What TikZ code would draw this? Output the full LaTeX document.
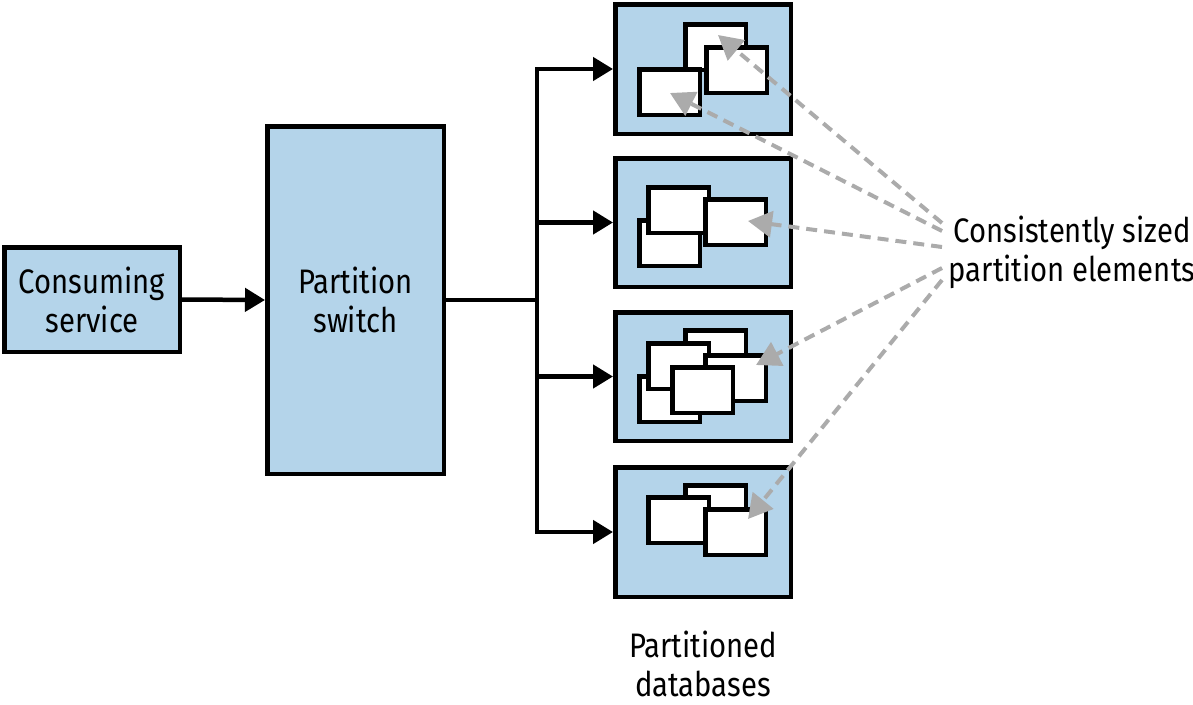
\documentclass[tikz,border=0pt]{standalone}
\usepackage{fontspec}
\setmainfont[FakeStretch=0.86]{Fira Sans}
\usetikzlibrary{arrows.meta,calc}
\definecolor{boxblue}{HTML}{B4D4EA}
\definecolor{ptrgray}{HTML}{ABABAB}
\tikzset{
  txt/.style={font=\fontsize{34}{39}\selectfont, align=center, inner sep=0pt},
  bluebox/.style={draw=black, line width=4.5pt, fill=boxblue, inner sep=0pt, txt},
  elem/.style={draw=black, line width=4.5pt, fill=white, minimum width=60.5pt, minimum height=45.5pt, inner sep=0pt, anchor=north west},
  link/.style={draw=black, line width=4.5pt, -{Triangle[length=20pt,width=23pt]}},
  wire/.style={draw=black, line width=4.5pt},
  ptr/.style={draw=ptrgray, line width=4pt, dash pattern=on 11pt off 7pt, -{Triangle[length=24pt,width=26pt]}}
}
\begin{document}
\begin{tikzpicture}[x=1pt,y=-1pt]
\useasboundingbox (0,0) rectangle (1193,704);
% main boxes
\node[bluebox, minimum width=175.5pt, minimum height=104.5pt] (cs) at (92,299.5) {Consuming\\service};
\node[bluebox, minimum width=176.5pt, minimum height=347.5pt] (ps) at (355.5,300) {Partition\\switch};
\node[bluebox, minimum width=175.5pt, minimum height=129.5pt] (db1) at (703,69) {};
\node[bluebox, minimum width=175.5pt, minimum height=128.5pt] (db2) at (703,222.5) {};
\node[bluebox, minimum width=175.5pt, minimum height=128.5pt] (db3) at (703,376.5) {};
\node[bluebox, minimum width=175.5pt, minimum height=129.5pt] (db4) at (703,532) {};
% partition elements, box 1
\node[elem] (e1a) at (683,22) {};
\node[elem] (e1b) at (704,45) {};
\node[elem] (e1c) at (637,67) {};
% box 2
\node[elem] (e2a) at (637,218) {};
\node[elem] (e2b) at (646,185) {};
\node[elem] (e2c) at (703,197) {};
% box 3
\node[elem] (e3a) at (683,328) {};
\node[elem] (e3b) at (637,374) {};
\node[elem] (e3c) at (646,341) {};
\node[elem] (e3d) at (703,353) {};
\node[elem] (e3e) at (670,365) {};
% box 4
\node[elem] (e4a) at (683,483) {};
\node[elem] (e4b) at (646,495) {};
\node[elem] (e4c) at (703,507) {};
% labels
\node[txt] (lbl) at (1072,252) {Consistently sized\\partition elements};
\node[txt] (pdb) at (703,664) {Partitioned\\databases};
% connectors
\draw[link] (cs.east) -- (ps.west);
\coordinate (br) at (537,300);
\draw[wire] (ps.east) -- (br);
\draw[link] (br) |- (db1.west);
\draw[link] (br) |- (db2.west);
\draw[link] (br) |- (db3.west);
\draw[link] (br) |- (db4.west);
% pointer arrows
\coordinate (s1) at (942,223);
\coordinate (s2) at (942,231);
\coordinate (s3) at (942,247);
\coordinate (s4) at (942,268);
\coordinate (s5) at (942,280);
\coordinate (t1) at (718,35);
\coordinate (t2) at (670,93);
\coordinate (t3) at (748,221);
\coordinate (t4) at (756,365);
\coordinate (t5) at (748,519);
\draw[ptr] (s1) -- (t1);
\draw[ptr] (s2) -- (t2);
\draw[ptr] (s3) -- (t3);
\draw[ptr] (s4) -- (t4);
\draw[ptr] (s5) -- (t5);
\end{tikzpicture}
\end{document}
